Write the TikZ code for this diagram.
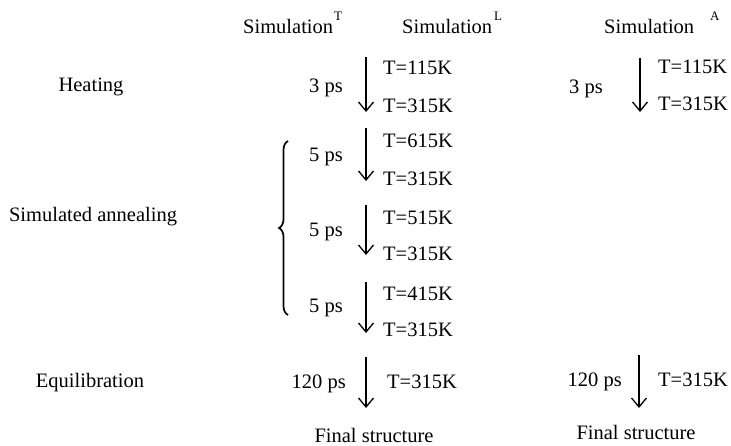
\documentclass[tikz,border=0pt]{standalone}
\usepackage{fontspec}
\setmainfont{Liberation Serif}
\usetikzlibrary{arrows.meta,decorations.pathreplacing}
\begin{document}
\begin{tikzpicture}[x=1pt,y=-1pt,
  txt/.style={font=\fontsize{20.5}{24}\selectfont, inner sep=0pt, text height=13.5pt, text depth=0pt},
  hdr/.style={font=\fontsize{20.5}{24}\selectfont, inner sep=0pt, anchor=base west},
  supscr/.style={font=\fontsize{13}{15}\selectfont, inner sep=0pt, anchor=base west},
  flow/.style={line width=1.3pt, -{Straight Barb[length=9pt,width=15pt,line width=1.3pt]}},
  bracestyle/.style={line width=1.7pt, decorate, decoration={brace, amplitude=9pt}}]
\useasboundingbox (0,0) rectangle (731,446);

% headers
\node[hdr] (simT) at (243,34) {Simulation};
\node[supscr] (supT) at (334,21) {T};
\node[hdr] (simL) at (402,34) {Simulation};
\node[supscr] (supL) at (494,21) {L};
\node[hdr] (simA) at (604,34) {Simulation};
\node[supscr] (supA) at (710,21) {A};

% phase labels
\node[txt] (heat) at (91,85) {Heating};
\node[txt] (anneal) at (93,215) {Simulated annealing};
\node[txt] (equil) at (90,381) {Equilibration};

% brace
\draw[bracestyle] (288,315) coordinate (brB) -- (288,141) coordinate (brT);

% column L
\coordinate (L1s) at (366,57); \coordinate (L1e) at (366,112);
\node[txt,anchor=east] (L1p) at (343,86) {3 ps};
\node[txt,anchor=west] (L1a) at (383,68) {T=115K};
\node[txt,anchor=west] (L1b) at (383,106) {T=315K};
\draw[flow] (L1s) -- (L1e);

\coordinate (L2s) at (366,128); \coordinate (L2e) at (366,181);
\node[txt,anchor=east] (L2p) at (343,155) {5 ps};
\node[txt,anchor=west] (L2a) at (383,141) {T=615K};
\node[txt,anchor=west] (L2b) at (383,179) {T=315K};
\draw[flow] (L2s) -- (L2e);

\coordinate (L3s) at (366,205); \coordinate (L3e) at (366,255);
\node[txt,anchor=east] (L3p) at (343,230) {5 ps};
\node[txt,anchor=west] (L3a) at (383,218) {T=515K};
\node[txt,anchor=west] (L3b) at (383,254) {T=315K};
\draw[flow] (L3s) -- (L3e);

\coordinate (L4s) at (366,282); \coordinate (L4e) at (366,333);
\node[txt,anchor=east] (L4p) at (343,306) {5 ps};
\node[txt,anchor=west] (L4a) at (383,294) {T=415K};
\node[txt,anchor=west] (L4b) at (383,330) {T=315K};
\draw[flow] (L4s) -- (L4e);

\coordinate (L5s) at (366,357); \coordinate (L5e) at (366,408);
\node[txt,anchor=east] (L5p) at (346,382) {120 ps};
\node[txt,anchor=west] (L5a) at (387,382) {T=315K};
\draw[flow] (L5s) -- (L5e);

\node[txt] (finL) at (374,436) {Final structure};

% column A
\coordinate (A1s) at (640,58); \coordinate (A1e) at (640,112);
\node[txt,anchor=east] (A1p) at (603,87) {3 ps};
\node[txt,anchor=west] (A1a) at (658,67) {T=115K};
\node[txt,anchor=west] (A1b) at (658,104) {T=315K};
\draw[flow] (A1s) -- (A1e);

\coordinate (A5s) at (639,355); \coordinate (A5e) at (639,408);
\node[txt,anchor=east] (A5p) at (622,380) {120 ps};
\node[txt,anchor=west] (A5a) at (658,380) {T=315K};
\draw[flow] (A5s) -- (A5e);

\node[txt] (finA) at (636,433) {Final structure};
\end{tikzpicture}
\end{document}
